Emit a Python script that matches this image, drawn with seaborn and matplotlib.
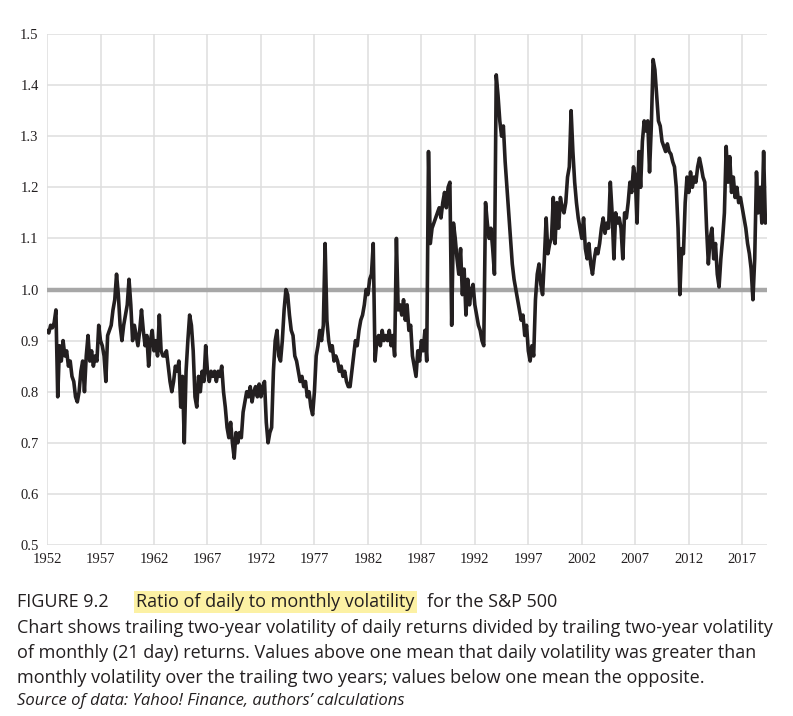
import numpy as np
import pandas as pd
import seaborn as sns
import matplotlib.pyplot as plt

# ratio of daily to monthly volatility, every two months
ratio_1950s = [0.92, 0.915, 0.93, 0.925, 0.935, 0.96,
               0.79, 0.89, 0.86, 0.90, 0.87, 0.88,
               0.85, 0.86, 0.83, 0.82, 0.79, 0.78,
               0.80, 0.84, 0.86, 0.80, 0.87, 0.91,
               0.86, 0.88, 0.85, 0.87, 0.86, 0.93,
               0.90, 0.89, 0.87, 0.82, 0.91, 0.92,
               0.93, 0.96, 0.98, 1.03, 0.99, 0.93,
               0.90, 0.93, 0.95, 0.97, 1.02, 0.97]
ratio_1960s = [0.90, 0.93, 0.91, 0.89, 0.92, 0.96,
               0.92, 0.89, 0.91, 0.85, 0.90, 0.92,
               0.88, 0.90, 0.87, 0.95, 0.88, 0.87,
               0.87, 0.88, 0.85, 0.82, 0.80, 0.82,
               0.85, 0.84, 0.86, 0.77, 0.83, 0.70,
               0.84, 0.90, 0.95, 0.93, 0.88, 0.79,
               0.77, 0.83, 0.80, 0.84, 0.82, 0.89,
               0.84, 0.82, 0.84, 0.83, 0.84, 0.82,
               0.84, 0.83, 0.85, 0.80, 0.77, 0.73,
               0.71, 0.74, 0.70, 0.67, 0.72, 0.70]
ratio_1970s = [0.72, 0.71, 0.76, 0.78, 0.80, 0.79,
               0.81, 0.78, 0.80, 0.81, 0.79, 0.815,
               0.79, 0.81, 0.82, 0.74, 0.70, 0.72,
               0.73, 0.84, 0.90, 0.92, 0.87, 0.86,
               0.90, 0.96, 1.00, 0.99, 0.95, 0.92,
               0.91, 0.87, 0.86, 0.84, 0.82, 0.83,
               0.81, 0.82, 0.79, 0.80, 0.77, 0.755,
               0.80, 0.87, 0.89, 0.92, 0.90, 0.93,
               1.09, 0.94, 0.90, 0.88, 0.89, 0.86,
               0.87, 0.86, 0.84, 0.85, 0.83, 0.84]
ratio_1980s = [0.82, 0.81, 0.81, 0.84, 0.87, 0.90,
               0.89, 0.92, 0.94, 0.95, 0.97, 1.00,
               0.99, 1.02, 1.03, 1.09, 0.86, 0.90,
               0.91, 0.89, 0.92, 0.90, 0.91, 0.90,
               0.92, 0.89, 0.91, 0.87, 1.10, 0.96,
               0.97, 0.95, 0.98, 0.94, 0.97, 0.92,
               0.93, 0.87, 0.85, 0.83, 0.88, 0.86,
               0.90, 0.88, 0.92, 0.86, 1.27, 1.09,
               1.12, 1.13, 1.14, 1.15, 1.16, 1.14,
               1.17, 1.19, 1.16, 1.20, 1.21, 0.93]
ratio_1990s = [1.13, 1.10, 1.06, 1.03, 1.08, 0.99,
               1.04, 0.95, 1.02, 0.97, 1.00, 1.01,
               0.97, 0.95, 0.93, 0.92, 0.90, 0.89,
               1.17, 1.13, 1.10, 1.12, 1.08, 1.03,
               1.42, 1.38, 1.33, 1.30, 1.32, 1.25,
               1.20, 1.15, 1.10, 1.05, 1.02, 1.00,
               0.98, 0.96, 0.94, 0.95, 0.91, 0.93,
               0.88, 0.86, 0.89, 0.87, 0.98, 1.03,
               1.05, 1.01, 0.99, 1.06, 1.14, 1.07,
               1.09, 1.10, 1.18, 1.09, 1.17, 1.12]
ratio_2000s = [1.18, 1.16, 1.15, 1.17, 1.22, 1.24,
               1.35, 1.27, 1.21, 1.17, 1.14, 1.12,
               1.10, 1.14, 1.08, 1.06, 1.09, 1.05,
               1.03, 1.06, 1.08, 1.07, 1.09, 1.12,
               1.14, 1.11, 1.13, 1.12, 1.21, 1.15,
               1.06, 1.15, 1.13, 1.14, 1.12, 1.06,
               1.15, 1.14, 1.17, 1.21, 1.19, 1.24,
               1.22, 1.13, 1.27, 1.20, 1.29, 1.33,
               1.31, 1.33, 1.23, 1.32, 1.45, 1.43,
               1.38, 1.33, 1.32, 1.29, 1.28, 1.27]
ratio_2010s = [1.285, 1.27, 1.265, 1.25, 1.24, 1.20,
               1.12, 0.99, 1.08, 1.07, 1.17, 1.22,
               1.19, 1.23, 1.20, 1.22, 1.21, 1.24,
               1.257, 1.24, 1.22, 1.21, 1.12, 1.05,
               1.10, 1.12, 1.06, 1.09, 1.03, 1.005,
               1.06, 1.10, 1.15, 1.28, 1.21, 1.26,
               1.19, 1.22, 1.18, 1.20, 1.17, 1.18,
               1.16, 1.14, 1.12, 1.09, 1.07, 1.04,
               0.98, 1.06, 1.23, 1.15, 1.20, 1.13,
               1.27, 1.13]

start_year = 1952
samples_per_year = 6
year_ticks = list(range(1952, 2018, 5))
y_ticks = [0.5, 0.6, 0.7, 0.8, 0.9, 1.0, 1.1, 1.2, 1.3, 1.4, 1.5]

ratio = ratio_1950s + ratio_1960s + ratio_1970s + ratio_1980s + ratio_1990s + ratio_2000s + ratio_2010s
df = pd.DataFrame({
    'year': start_year + np.arange(len(ratio)) / samples_per_year,
    'ratio': ratio,
})

sns.set_theme(style='whitegrid', rc={'grid.color': '#dedede', 'grid.linewidth': 1.1})
text_col = '#231f20'

fig = plt.figure(figsize=(7.93, 7.16), dpi=100)
ax = fig.add_axes([0.0593, 0.2388, 0.9077, 0.7137])

ax.axhline(1.0, color='#a7a7a7', lw=3.2, zorder=2)
sns.lineplot(data=df, x='year', y='ratio', ax=ax, color=text_col, lw=2.6, zorder=3)

ax.set_xlim(1952, 2019.3)
ax.set_ylim(0.5, 1.5)
ax.set_xticks(year_ticks)
ax.set_yticks(y_ticks)
ax.set_yticklabels([f'{v:.1f}' for v in y_ticks])
ax.set_xlabel('')
ax.set_ylabel('')
ax.tick_params(length=0, pad=6, labelsize=10.5, colors=text_col)
for lbl in ax.get_xticklabels() + ax.get_yticklabels():
    lbl.set_fontfamily('Liberation Serif')
sns.despine(ax=ax, left=True, bottom=True)

# caption
cap = dict(fontfamily='Open Sans', fontsize=13, color=text_col, va='baseline')
fig.text(17 / 793, 1 - 607 / 716, 'FIGURE 9.2', **cap)
fig.text(136 / 793, 1 - 607 / 716, 'Ratio of daily to monthly volatility',
         bbox=dict(facecolor='#fcf1a4', edgecolor='none', pad=1.5), **cap)
fig.text(427 / 793, 1 - 607 / 716, 'for the S&P 500', **cap)
body = ['Chart shows trailing two-year volatility of daily returns divided by trailing two-year volatility',
        'of monthly (21 day) returns. Values above one mean that daily volatility was greater than',
        'monthly volatility over the trailing two years; values below one mean the opposite.']
for i, line in enumerate(body):
    fig.text(17 / 793, 1 - (633 + 25 * i) / 716, line, **cap)
fig.text(17 / 793, 1 - 705 / 716, 'Source of data: Yahoo! Finance, authors\u2019 calculations',
         fontfamily='Open Sans', fontsize=12, style='italic', color=text_col, va='baseline')

fig.savefig('out.png', dpi=100)
